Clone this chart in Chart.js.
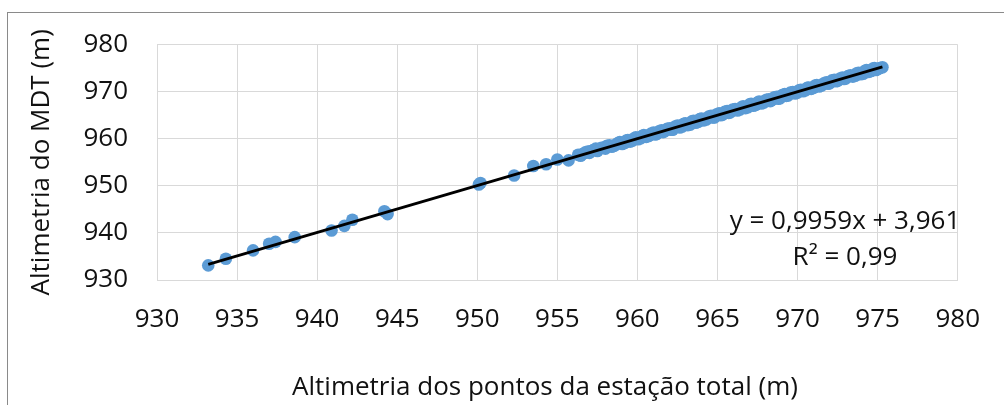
<!DOCTYPE html>
<html>
<head>
<meta charset="utf-8">
<script src="https://cdn.jsdelivr.net/npm/chart.js@4/dist/chart.umd.min.js"></script>
<style>
  html, body { margin: 0; padding: 0; background: #fff; overflow: hidden; }
  #wrap { position: relative; width: 1004px; height: 405px; }
  #frame { position: absolute; left: 7px; top: 12px; width: 1100px; height: 500px; border-left: 1px solid #8a8a8a; border-top: 1px solid #8a8a8a; }
  canvas { position: absolute; left: 0; top: 0; }
</style>
</head>
<body>
<div id="wrap">
  <div id="frame"></div>
  <canvas id="c" width="1004" height="405"></canvas>
</div>
<script>
// Altimetria dos pontos da estação total (m) — sparse part and first dense pass
const estacaoTotal = [
  933.2, 934.3, 936.0, 937.0, 937.4, 938.6, 940.9, 941.7, 942.2, 944.2, 944.4,
  950.1, 950.2, 952.3, 953.5, 954.3, 955.0, 955.7,
  956.3, 956.6, 956.9, 957.1, 957.4, 957.6, 957.9, 958.1, 958.4, 958.7, 958.9,
  959.2, 959.4, 959.7, 959.9, 960.2, 960.4, 960.7, 961.0, 961.2, 961.5, 961.7,
  962.0, 962.2, 962.5, 962.8, 963.0, 963.3, 963.5, 963.8, 964.0, 964.3, 964.6,
  964.8, 965.1, 965.3, 965.6, 965.8, 966.1, 966.4, 966.6, 966.9, 967.1, 967.4,
  967.6, 967.9, 968.2, 968.4, 968.7, 968.9, 969.2, 969.4, 969.7, 970.0, 970.2,
  970.5, 970.7, 971.0, 971.2, 971.5, 971.8, 972.0, 972.3, 972.5, 972.8, 973.0,
  973.3, 973.6, 973.8, 974.1, 974.3, 974.6, 974.8, 975.0, 975.3
];
// Altimetria do MDT (m)
const mdt = [
  933.1, 934.5, 936.3, 937.7, 938.1, 939.1, 940.5, 941.5, 942.8, 944.6, 944.0,
  950.3, 950.6, 952.2, 954.2, 954.6, 955.6, 955.4,
  956.6, 956.8, 957.3, 957.4, 957.9, 957.8, 958.1, 958.5, 958.3, 958.9, 959.3,
  959.1, 959.7, 959.6, 960.3, 960.1, 960.8, 960.6, 961.3, 961.0, 961.8, 961.6,
  962.2, 961.9, 962.8, 962.6, 963.3, 963.0, 963.8, 963.6, 964.3, 964.1, 964.9,
  964.5, 965.4, 965.1, 965.9, 965.6, 966.3, 966.2, 966.9, 966.7, 967.4, 967.2,
  967.9, 967.7, 968.4, 968.2, 968.9, 968.6, 969.5, 969.2, 969.9, 969.8, 970.4,
  970.3, 970.9, 970.8, 971.4, 971.3, 972.0, 971.8, 972.5, 972.3, 973.0, 972.8,
  973.5, 973.4, 974.0, 973.8, 974.6, 974.4, 975.0, 974.8, 975.2
];
// Additional readings of the dense band (estação total)
const estacaoTotalDenso = [
  956.45, 956.75, 957.0, 957.25, 957.5, 957.75, 958.0, 958.25, 958.55, 958.8,
  959.05, 959.3, 959.55, 959.8, 960.05, 960.3, 960.55, 960.85, 961.1, 961.35,
  961.6, 961.85, 962.1, 962.35, 962.65, 962.9, 963.15, 963.4, 963.65, 963.9,
  964.15, 964.45, 964.7, 964.95, 965.2, 965.45, 965.7, 965.95, 966.25, 966.5,
  966.75, 967.0, 967.25, 967.5, 967.75, 968.05, 968.3, 968.55, 968.8, 969.05,
  969.3, 969.55, 969.85, 970.1, 970.35, 970.6, 970.85, 971.1, 971.35, 971.65,
  971.9, 972.15, 972.4, 972.65, 972.9, 973.15, 973.45, 973.7, 973.95, 974.2,
  974.45, 974.7, 974.9, 975.15
];
// Additional readings of the dense band (MDT)
const mdtDenso = [
  956.4, 957.1, 957.0, 957.6, 957.4, 958.1, 957.9, 958.6, 958.5, 959.1,
  958.9, 959.6, 959.4, 960.1, 959.9, 960.6, 960.4, 961.1, 960.9, 961.6,
  961.4, 962.1, 961.9, 962.6, 962.4, 963.2, 962.9, 963.7, 963.4, 964.2,
  963.9, 964.7, 964.5, 965.2, 965.0, 965.7, 965.5, 966.2, 966.0, 966.7,
  966.5, 967.3, 967.0, 967.7, 967.5, 968.3, 968.0, 968.8, 968.5, 969.3,
  969.1, 969.8, 969.6, 970.3, 970.1, 970.8, 970.6, 971.3, 971.1, 971.8,
  971.7, 972.4, 972.2, 972.8, 972.7, 973.3, 973.2, 973.9, 973.7, 974.4,
  974.2, 974.9, 974.6, 975.0
];
// Linear trendline from the reference
const slope = 0.9959;
const intercept = 3.961;
const equationText = ["y = 0,9959x + 3,961", "R² = 0,99"];
const xTitle = 'Altimetria dos pontos da estação total (m)';
const yTitle = 'Altimetria do MDT (m)';
const xTicks = [930, 935, 940, 945, 950, 955, 960, 965, 970, 975, 980];
const yTicks = [930, 940, 950, 960, 970, 980];

const allX = estacaoTotal.concat(estacaoTotalDenso);
const allY = mdt.concat(mdtDenso);
const points = allX.map((x, i) => ({ x: x, y: allY[i] }));
const xMin = Math.min(...allX), xMax = Math.max(...allX);
const trend = [xMin, xMax].map(x => ({ x: x, y: slope * x + intercept }));

const FONT = "'Open Sans', sans-serif";
const fmt = v => String(v);

const textPlugin = {
  id: 'texts',
  afterDraw(chart) {
    const ctx = chart.ctx;
    ctx.save();
    ctx.font = "26px " + FONT;
    ctx.fillStyle = '#111';
    ctx.textAlign = 'center';
    ctx.textBaseline = 'middle';
    ctx.fillText(equationText[0], 845, 222);
    ctx.fillText(equationText[1], 845, 258);
    ctx.fillText(xTitle, 545, 388);
    ctx.restore();
  }
};

new Chart(document.getElementById('c'), {
  type: 'scatter',
  data: {
    datasets: [
      {
        label: 'trend',
        type: 'line',
        data: trend,
        borderColor: '#000',
        borderWidth: 2.8,
        pointRadius: 0,
        fill: false,
        order: 0
      },
      {
        label: 'pontos',
        data: points,
        backgroundColor: '#5b9bd5',
        borderColor: '#5b9bd5',
        borderWidth: 0,
        pointRadius: 6.3,
        pointHoverRadius: 6.3,
        order: 1
      }
    ]
  },
  options: {
    responsive: false,
    animation: false,
    devicePixelRatio: 1,
    layout: { padding: { top: 43, right: 39, left: 0, bottom: 0 } },
    plugins: { legend: { display: false }, tooltip: { enabled: false } },
    scales: {
      x: {
        type: 'linear',
        min: 930, max: 980,
        afterBuildTicks: s => { s.ticks = xTicks.map(v => ({ value: v })); },
        afterFit: s => { s.height = 125; },
        grid: { color: '#d9d9d9', lineWidth: 1, drawTicks: false },
        border: { display: true, color: '#d9d9d9', width: 1 },
        ticks: { padding: 24, color: '#111', font: { family: FONT, size: 26 }, callback: fmt, maxRotation: 0, autoSkip: false },
        title: { display: false }
      },
      y: {
        type: 'linear',
        min: 930, max: 980,
        afterBuildTicks: s => { s.ticks = yTicks.map(v => ({ value: v })); },
        afterFit: s => { s.width = 157; },
        grid: { color: '#d9d9d9', lineWidth: 1, drawTicks: false },
        border: { display: true, color: '#d9d9d9', width: 1 },
        ticks: { padding: 29, color: '#111', font: { family: FONT, size: 26 }, callback: fmt, autoSkip: false },
        title: { display: true, text: yTitle, color: '#111', font: { family: FONT, size: 26, lineHeight: 1 }, padding: { top: 29, bottom: 0 } }
      }
    }
  },
  plugins: [textPlugin]
});
</script>
</body>
</html>
